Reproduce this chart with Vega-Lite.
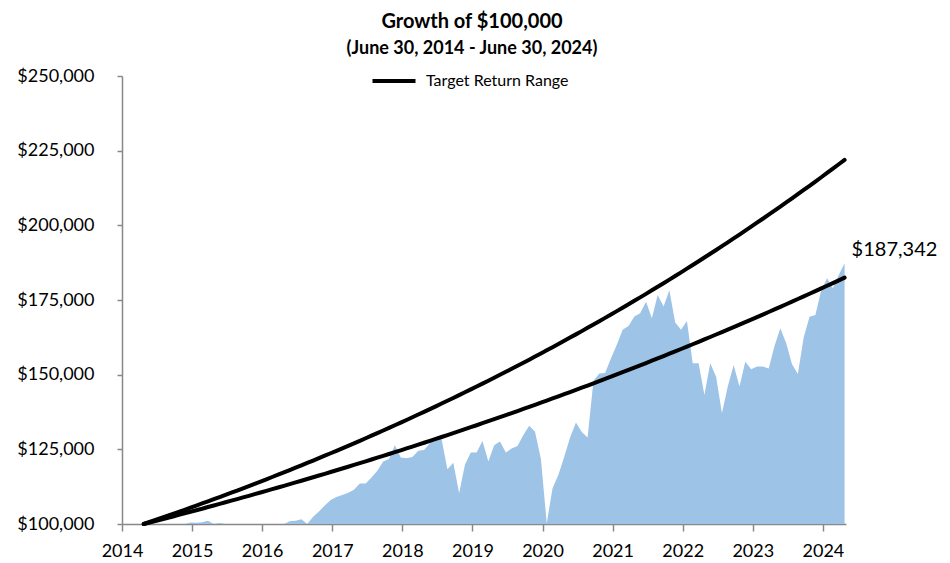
{
  "$schema": "https://vega.github.io/schema/vega-lite/v6.json",
  "autosize": {"type": "none"},
  "width": 724,
  "height": 448,
  "padding": {"left": 122, "top": 76, "right": 104, "bottom": 39},
  "background": "white",
  "config": {
    "view": {"stroke": null},
    "font": "Lato",
    "axis": {"grid": false, "domainColor": "#888888", "tickColor": "#888888", "domainWidth": 1.5, "tickWidth": 1.5, "labelFont": "Lato", "labelFontSize": 18, "labelColor": "black", "title": null}
  },
  "title": {
    "text": "Growth of $100,000",
    "subtitle": "(June 30, 2014 - June 30, 2024)",
    "font": "Lato", "fontSize": 20, "fontWeight": "bold", "color": "black",
    "subtitleFont": "Lato", "subtitleFontSize": 18, "subtitleFontWeight": "bold", "subtitleColor": "black",
    "anchor": "middle", "dx": -12, "offset": -1, "subtitlePadding": 8
  },
  "data": {"values": [
    {"t":2014.31,"v":100000,"hi":100000,"lo":100000},
    {"t":2014.393,"v":99600,"hi":100670,"lo":100500},
    {"t":2014.477,"v":99300,"hi":101340,"lo":101000},
    {"t":2014.56,"v":99000,"hi":102010,"lo":101500},
    {"t":2014.643,"v":99400,"hi":102690,"lo":102000},
    {"t":2014.727,"v":99000,"hi":103380,"lo":102500},
    {"t":2014.81,"v":99700,"hi":104070,"lo":103100},
    {"t":2014.893,"v":99900,"hi":104760,"lo":103600},
    {"t":2014.977,"v":100500,"hi":105460,"lo":104100},
    {"t":2015.06,"v":100400,"hi":106160,"lo":104600},
    {"t":2015.143,"v":100600,"hi":106870,"lo":105100},
    {"t":2015.227,"v":101100,"hi":107580,"lo":105700},
    {"t":2015.31,"v":99800,"hi":108300,"lo":106200},
    {"t":2015.393,"v":100300,"hi":109020,"lo":106730},
    {"t":2015.477,"v":99600,"hi":109750,"lo":107270},
    {"t":2015.56,"v":97500,"hi":110480,"lo":107810},
    {"t":2015.643,"v":95500,"hi":111210,"lo":108350},
    {"t":2015.727,"v":96800,"hi":111960,"lo":108900},
    {"t":2015.81,"v":97500,"hi":112700,"lo":109440},
    {"t":2015.893,"v":96000,"hi":113450,"lo":109990},
    {"t":2015.977,"v":94500,"hi":114210,"lo":110550},
    {"t":2016.06,"v":95200,"hi":114970,"lo":111100},
    {"t":2016.143,"v":97200,"hi":115740,"lo":111660},
    {"t":2016.227,"v":97800,"hi":116510,"lo":112220},
    {"t":2016.31,"v":99300,"hi":117280,"lo":112780},
    {"t":2016.393,"v":100900,"hi":118070,"lo":113350},
    {"t":2016.477,"v":101100,"hi":118850,"lo":113920},
    {"t":2016.56,"v":101600,"hi":119650,"lo":114490},
    {"t":2016.643,"v":99900,"hi":120440,"lo":115070},
    {"t":2016.727,"v":102400,"hi":121250,"lo":115650},
    {"t":2016.81,"v":104200,"hi":122050,"lo":116230},
    {"t":2016.893,"v":106200,"hi":122870,"lo":116810},
    {"t":2016.977,"v":108000,"hi":123690,"lo":117400},
    {"t":2017.06,"v":109000,"hi":124510,"lo":117990},
    {"t":2017.143,"v":109700,"hi":125340,"lo":118580},
    {"t":2017.227,"v":110500,"hi":126180,"lo":119180},
    {"t":2017.31,"v":111500,"hi":127020,"lo":119780},
    {"t":2017.393,"v":113600,"hi":127860,"lo":120380},
    {"t":2017.477,"v":113600,"hi":128720,"lo":120980},
    {"t":2017.56,"v":115600,"hi":129570,"lo":121590},
    {"t":2017.643,"v":117800,"hi":130440,"lo":122200},
    {"t":2017.727,"v":120900,"hi":131310,"lo":122820},
    {"t":2017.81,"v":121800,"hi":132180,"lo":123440},
    {"t":2017.893,"v":126400,"hi":133060,"lo":124060},
    {"t":2017.977,"v":122300,"hi":133950,"lo":124680},
    {"t":2018.06,"v":122000,"hi":134840,"lo":125300},
    {"t":2018.143,"v":122400,"hi":135740,"lo":125930},
    {"t":2018.227,"v":124500,"hi":136650,"lo":126570},
    {"t":2018.31,"v":124800,"hi":137560,"lo":127200},
    {"t":2018.393,"v":127000,"hi":138470,"lo":127840},
    {"t":2018.477,"v":129200,"hi":139400,"lo":128490},
    {"t":2018.56,"v":128400,"hi":140330,"lo":129130},
    {"t":2018.643,"v":118300,"hi":141260,"lo":129780},
    {"t":2018.727,"v":120500,"hi":142200,"lo":130430},
    {"t":2018.81,"v":110300,"hi":143150,"lo":131090},
    {"t":2018.893,"v":119800,"hi":144110,"lo":131750},
    {"t":2018.977,"v":123900,"hi":145070,"lo":132410},
    {"t":2019.06,"v":123900,"hi":146030,"lo":133070},
    {"t":2019.143,"v":127800,"hi":147010,"lo":133740},
    {"t":2019.227,"v":120900,"hi":147990,"lo":134410},
    {"t":2019.31,"v":126400,"hi":148970,"lo":135090},
    {"t":2019.393,"v":127600,"hi":149960,"lo":135770},
    {"t":2019.477,"v":123900,"hi":150960,"lo":136450},
    {"t":2019.56,"v":125300,"hi":151970,"lo":137140},
    {"t":2019.643,"v":126100,"hi":152980,"lo":137830},
    {"t":2019.727,"v":129800,"hi":154000,"lo":138520},
    {"t":2019.81,"v":132900,"hi":155030,"lo":139220},
    {"t":2019.893,"v":130900,"hi":156060,"lo":139910},
    {"t":2019.977,"v":121800,"hi":157100,"lo":140620},
    {"t":2020.06,"v":100200,"hi":158150,"lo":141320},
    {"t":2020.143,"v":112000,"hi":159200,"lo":142030},
    {"t":2020.227,"v":116500,"hi":160260,"lo":142750},
    {"t":2020.31,"v":122500,"hi":161330,"lo":143470},
    {"t":2020.393,"v":129000,"hi":162410,"lo":144190},
    {"t":2020.477,"v":134000,"hi":163490,"lo":144910},
    {"t":2020.56,"v":130800,"hi":164580,"lo":145640},
    {"t":2020.643,"v":129000,"hi":165680,"lo":146370},
    {"t":2020.727,"v":148000,"hi":166780,"lo":147110},
    {"t":2020.81,"v":150400,"hi":167890,"lo":147850},
    {"t":2020.893,"v":150600,"hi":169010,"lo":148590},
    {"t":2020.977,"v":155500,"hi":170140,"lo":149340},
    {"t":2021.06,"v":160000,"hi":171270,"lo":150090},
    {"t":2021.143,"v":165000,"hi":172410,"lo":150840},
    {"t":2021.227,"v":166300,"hi":173560,"lo":151600},
    {"t":2021.31,"v":169500,"hi":174720,"lo":152360},
    {"t":2021.393,"v":170600,"hi":175880,"lo":153130},
    {"t":2021.477,"v":174400,"hi":177060,"lo":153890},
    {"t":2021.56,"v":168900,"hi":178240,"lo":154670},
    {"t":2021.643,"v":176700,"hi":179420,"lo":155450},
    {"t":2021.727,"v":172800,"hi":180620,"lo":156230},
    {"t":2021.81,"v":178300,"hi":181820,"lo":157010},
    {"t":2021.893,"v":167500,"hi":183040,"lo":157800},
    {"t":2021.977,"v":165000,"hi":184260,"lo":158590},
    {"t":2022.06,"v":168000,"hi":185490,"lo":159390},
    {"t":2022.143,"v":153800,"hi":186720,"lo":160190},
    {"t":2022.227,"v":153800,"hi":187970,"lo":160990},
    {"t":2022.31,"v":143200,"hi":189220,"lo":161810},
    {"t":2022.393,"v":153800,"hi":190480,"lo":162620},
    {"t":2022.477,"v":149300,"hi":191750,"lo":163440},
    {"t":2022.56,"v":137100,"hi":193030,"lo":164260},
    {"t":2022.643,"v":146000,"hi":194310,"lo":165080},
    {"t":2022.727,"v":153200,"hi":195610,"lo":165910},
    {"t":2022.81,"v":146000,"hi":196910,"lo":166750},
    {"t":2022.893,"v":154300,"hi":198220,"lo":167590},
    {"t":2022.977,"v":151800,"hi":199550,"lo":168430},
    {"t":2023.06,"v":152700,"hi":200880,"lo":169270},
    {"t":2023.143,"v":152700,"hi":202210,"lo":170120},
    {"t":2023.227,"v":152100,"hi":203560,"lo":170980},
    {"t":2023.31,"v":159600,"hi":204920,"lo":171840},
    {"t":2023.393,"v":165500,"hi":206280,"lo":172700},
    {"t":2023.477,"v":160500,"hi":207660,"lo":173570},
    {"t":2023.56,"v":153500,"hi":209040,"lo":174440},
    {"t":2023.643,"v":150200,"hi":210440,"lo":175320},
    {"t":2023.727,"v":162500,"hi":211840,"lo":176200},
    {"t":2023.81,"v":169400,"hi":213250,"lo":177090},
    {"t":2023.893,"v":170000,"hi":214670,"lo":177980},
    {"t":2023.977,"v":178300,"hi":216100,"lo":178870},
    {"t":2024.06,"v":182300,"hi":217540,"lo":179770},
    {"t":2024.143,"v":178900,"hi":218990,"lo":180670},
    {"t":2024.227,"v":183400,"hi":220450,"lo":181580},
    {"t":2024.31,"v":187342,"hi":221920,"lo":182490,"label":"$187,342"}
  ]},
  "encoding": {
    "x": {"field": "t", "type": "quantitative",
      "scale": {"domain": [2014, 2024.33], "nice": false, "zero": false},
      "axis": {"values": [2014,2015,2016,2017,2018,2019,2020,2021,2022,2023,2024], "format": "d", "tickSize": 7, "labelPadding": 11, "labelFlush": false}}
  },
  "layer": [
    {
      "mark": {"type": "area", "color": "#9DC3E6", "opacity": 1},
      "encoding": {
        "y": {"field": "v", "type": "quantitative",
          "scale": {"domain": [100000, 250000], "nice": false, "zero": false, "clamp": true},
          "axis": {"values": [100000,125000,150000,175000,200000,225000,250000], "format": "$,.0f", "tickSize": 5, "labelPadding": 23}}
      }
    },
    {
      "mark": {"type": "line", "strokeWidth": 4, "strokeJoin": "round", "strokeCap": "round"},
      "encoding": {
        "y": {"field": "hi", "type": "quantitative"},
        "color": {"datum": "Target Return Range", "type": "nominal",
          "scale": {"range": ["black"]},
          "legend": {"title": null, "orient": "none", "legendX": 248, "legendY": -19, "padding": 0,
            "symbolType": "stroke", "symbolSize": 1850, "symbolStrokeWidth": 4, "symbolStrokeColor": "black",
            "labelFont": "Lato", "labelFontSize": 16, "labelColor": "black", "labelOffset": 8}}
      }
    },
    {
      "mark": {"type": "line", "strokeWidth": 4, "strokeJoin": "round", "strokeCap": "round"},
      "encoding": {
        "y": {"field": "lo", "type": "quantitative"},
        "color": {"datum": "Target Return Range", "type": "nominal"}
      }
    },
    {
      "transform": [{"filter": "datum.label != null"}],
      "mark": {"type": "text", "align": "left", "baseline": "middle", "dx": 7, "dy": -13, "font": "Lato", "fontSize": 20, "color": "black"},
      "encoding": {
        "y": {"field": "v", "type": "quantitative"},
        "text": {"field": "label"}
      }
    }
  ]
}
